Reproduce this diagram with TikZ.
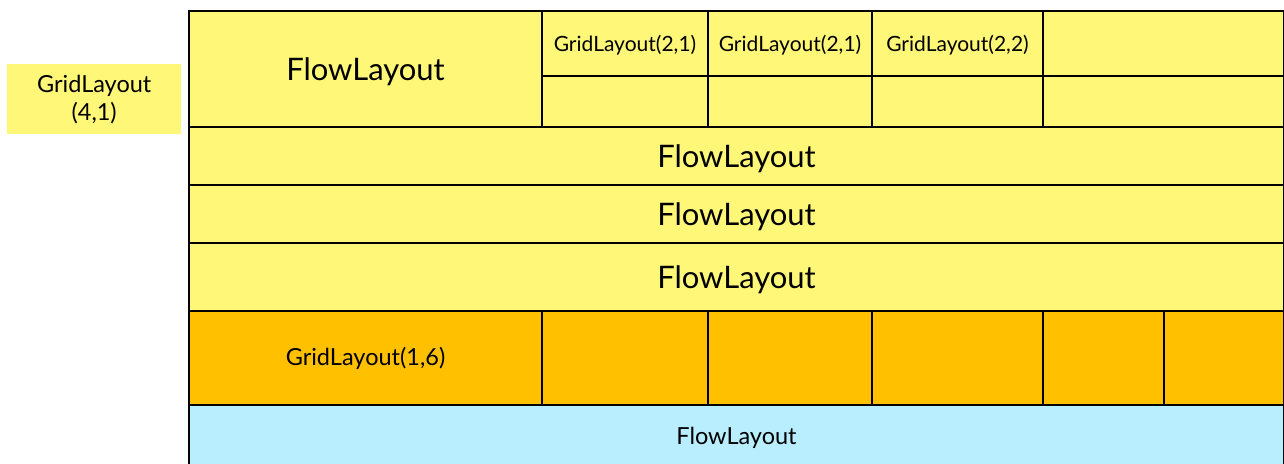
\documentclass[tikz,border=0pt]{standalone}
\usepackage{fontspec}
\setmainfont{Lato}
\usetikzlibrary{positioning}
\definecolor{paleyellow}{HTML}{FFF777}
\definecolor{amber}{HTML}{FFC000}
\definecolor{skyblue}{HTML}{B8EEFF}

\begin{document}
\begin{tikzpicture}[x=1pt,y=-1pt,
    cell/.style={draw,line width=2.5pt,fill=paleyellow,anchor=north west,
                 inner sep=0pt,outer sep=0pt,align=center},
    hot/.style={cell,fill=amber},
    big/.style={font=\fontsize{31}{34}\selectfont,text depth=0pt},
    small/.style={font=\fontsize{21}{24}\selectfont,text depth=0pt},
    mid/.style={font=\fontsize{23.5}{28}\selectfont}]
    \useasboundingbox (0,0) rectangle (1284,463);
    % outer container label
    \node[fill=paleyellow,anchor=north west,inner sep=0pt,minimum width=174pt,
          minimum height=70pt,align=center,mid] (outer) at (7,64) {GridLayout\\(4,1)};

    % first row
    \node[cell,big,minimum width=353pt,minimum height=116pt] (flowtop) at (189,11) {FlowLayout};
    \node[cell,small,minimum width=166pt,minimum height=65pt] (gridA) at (flowtop.north east) {GridLayout(2,1)};
    \node[cell,small,minimum width=164pt,minimum height=65pt] (gridB) at (gridA.north east) {GridLayout(2,1)};
    \node[cell,small,minimum width=171pt,minimum height=65pt] (gridC) at (gridB.north east) {GridLayout(2,2)};
    \node[cell,minimum width=241pt,minimum height=65pt] (gridD) at (gridC.north east) {};
    \node[cell,minimum width=166pt,minimum height=51pt] (lowA) at (gridA.south west) {};
    \node[cell,minimum width=164pt,minimum height=51pt] (lowB) at (gridB.south west) {};
    \node[cell,minimum width=171pt,minimum height=51pt] (lowC) at (gridC.south west) {};
    \node[cell,minimum width=241pt,minimum height=51pt] (lowD) at (gridD.south west) {};

    % flow rows
    \node[cell,big,minimum width=1095pt,minimum height=58pt] (flowB) at (flowtop.south west) {FlowLayout};
    \node[cell,big,minimum width=1095pt,minimum height=58pt] (flowC) at (flowB.south west) {FlowLayout};
    \node[cell,big,minimum width=1095pt,minimum height=68pt] (flowD) at (flowC.south west) {FlowLayout};

    % grid row
    \node[hot,mid,minimum width=353pt,minimum height=94pt] (six) at (flowD.south west) {GridLayout(1,6)};
    \node[hot,minimum width=166pt,minimum height=94pt] (sixA) at (six.north east) {};
    \node[hot,minimum width=164pt,minimum height=94pt] (sixB) at (sixA.north east) {};
    \node[hot,minimum width=171pt,minimum height=94pt] (sixC) at (sixB.north east) {};
    \node[hot,minimum width=121pt,minimum height=94pt] (sixD) at (sixC.north east) {};
    \node[hot,minimum width=120pt,minimum height=94pt] (sixE) at (sixD.north east) {};

    % bottom row
    \node[cell,fill=skyblue,mid,minimum width=1095pt,minimum height=65pt] (flowE) at (six.south west) {FlowLayout};
\end{tikzpicture}
\end{document}
